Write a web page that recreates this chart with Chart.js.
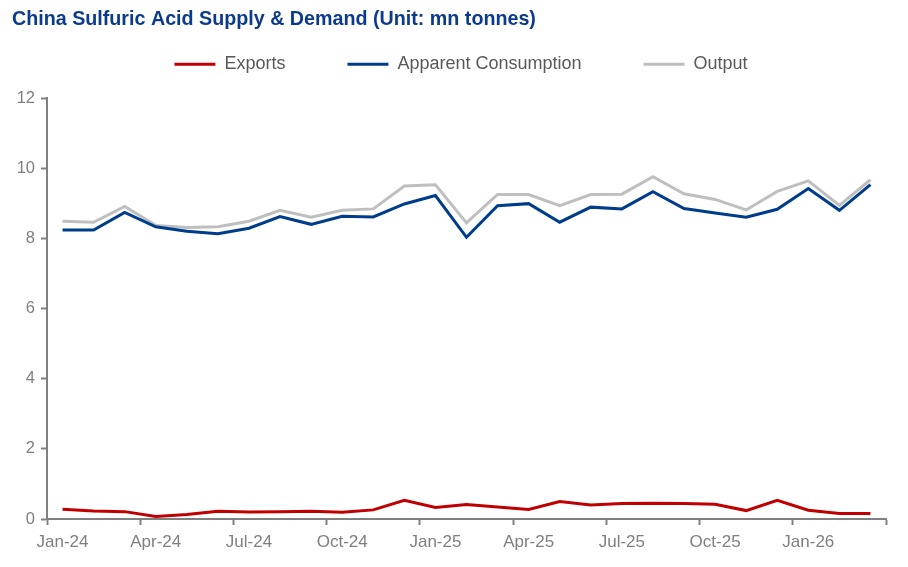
<!DOCTYPE html>
<html>
<head>
<meta charset="utf-8">
<title>China Sulfuric Acid Supply & Demand</title>
<script src="https://cdn.jsdelivr.net/npm/chart.js@4"></script>
<style>
  html, body { margin: 0; padding: 0; background: #fff; }
  #wrap { width: 908px; height: 567px; position: relative; }
</style>
</head>
<body>
<div id="wrap"><canvas id="chart"></canvas></div>
<script>
// monthly, Jan-24 .. Mar-26
const months = ['Jan-24','Feb-24','Mar-24','Apr-24','May-24','Jun-24','Jul-24','Aug-24','Sep-24','Oct-24','Nov-24','Dec-24',
  'Jan-25','Feb-25','Mar-25','Apr-25','May-25','Jun-25','Jul-25','Aug-25','Sep-25','Oct-25','Nov-25','Dec-25',
  'Jan-26','Feb-26','Mar-26'];

const exportsSeries = [0.28, 0.23, 0.21, 0.07, 0.13, 0.22, 0.20, 0.21, 0.22, 0.19, 0.26, 0.53,
  0.33, 0.41, 0.34, 0.27, 0.50, 0.40, 0.44, 0.45, 0.44, 0.42, 0.24, 0.53, 0.25, 0.16, 0.16];

const consumption = [8.24, 8.24, 8.74, 8.33, 8.20, 8.13, 8.29, 8.62, 8.40, 8.63, 8.61, 8.98,
  9.22, 8.03, 8.93, 8.99, 8.46, 8.89, 8.84, 9.33, 8.85, 8.72, 8.60, 8.83, 9.42, 8.80, 9.53];

const output = [8.49, 8.46, 8.91, 8.37, 8.31, 8.33, 8.49, 8.80, 8.60, 8.80, 8.84, 9.49,
  9.53, 8.44, 9.25, 9.25, 8.93, 9.25, 9.26, 9.76, 9.27, 9.11, 8.81, 9.34, 9.64, 8.94, 9.67];

const yTicks = [0, 2, 4, 6, 8, 10, 12];

const axisGrey = '#808080';
const textGrey = '#7f7f7f';

function line(label, data, color) {
  return {
    label: label,
    data: data,
    borderColor: color,
    backgroundColor: color,
    borderWidth: 3,
    pointRadius: 0,
    pointHoverRadius: 0,
    tension: 0,
    fill: false
  };
}

// legend padding is big to space the items out, which also pushes it down;
// fix its height and draw it a bit higher / to the right
const legendTweak = {
  id: 'legendTweak',
  beforeInit(chart) {
    const fit = chart.legend.fit;
    chart.legend.fit = function() {
      fit.bind(chart.legend)();
      this.height = 66.4;
    };
  },
  afterLayout(chart) {
    const lg = chart.legend;
    lg.top -= 38.4;
    lg.left += 12;
    lg.right += 12;
  }
};

new Chart(document.getElementById('chart'), {
  type: 'line',
  data: {
    labels: months,
    datasets: [
      line('Exports', exportsSeries, '#c00000'),
      line('Apparent Consumption', consumption, '#003c8c'),
      line('Output', output, '#bfbfbf')
    ]
  },
  plugins: [legendTweak],
  options: {
    responsive: true,
    maintainAspectRatio: false,
    animation: false,
    layout: { padding: { top: 0, left: 12, right: 22, bottom: 0 } },
    plugins: {
      title: {
        display: true,
        text: 'China Sulfuric Acid Supply & Demand (Unit: mn tonnes)',
        align: 'start',
        color: '#0d3b8c',
        font: { family: "'Liberation Sans', Arial, sans-serif", size: 19.7, weight: 'bold' },
        padding: { top: 8, bottom: 0 }
      },
      legend: {
        position: 'top',
        labels: {
          usePointStyle: true,
          pointStyle: 'line',
          pointStyleWidth: 41,
          padding: 62,
          color: '#595959',
          font: { family: "'Liberation Sans', Arial, sans-serif", size: 18 },
          generateLabels(chart) {
            const items = Chart.defaults.plugins.legend.labels.generateLabels(chart);
            items.forEach(it => { it.lineWidth = 3; });
            return items;
          }
        }
      },
      tooltip: { enabled: false }
    },
    scales: {
      x: {
        type: 'category',
        offset: true,
        afterFit(scale) { scale.height = 48; },
        grid: {
          offset: true,
          drawOnChartArea: false,
          drawTicks: true,
          tickLength: 6,
          tickWidth: 2,
          tickColor: ctx => (ctx.index === undefined || ctx.index % 3 === 0) ? axisGrey : 'rgba(0,0,0,0)'
        },
        border: { display: true, color: axisGrey, width: 2 },
        ticks: {
          autoSkip: false,
          maxRotation: 0,
          padding: 7,
          color: textGrey,
          font: { family: "'Liberation Sans', Arial, sans-serif", size: 17 },
          callback: function(value, index) {
            return index % 3 === 0 ? months[index] : '';
          }
        }
      },
      y: {
        min: 0,
        max: 12,
        afterFit(scale) { scale.width = 35; },
        afterBuildTicks(scale) { scale.ticks = yTicks.map(v => ({ value: v })); },
        grid: {
          drawOnChartArea: false,
          drawTicks: true,
          tickLength: 6,
          tickWidth: 2,
          color: axisGrey
        },
        border: { display: true, color: axisGrey, width: 2 },
        ticks: {
          padding: 6,
          color: textGrey,
          font: { family: "'Liberation Sans', Arial, sans-serif", size: 16.5 }
        }
      }
    }
  }
});
</script>
</body>
</html>
